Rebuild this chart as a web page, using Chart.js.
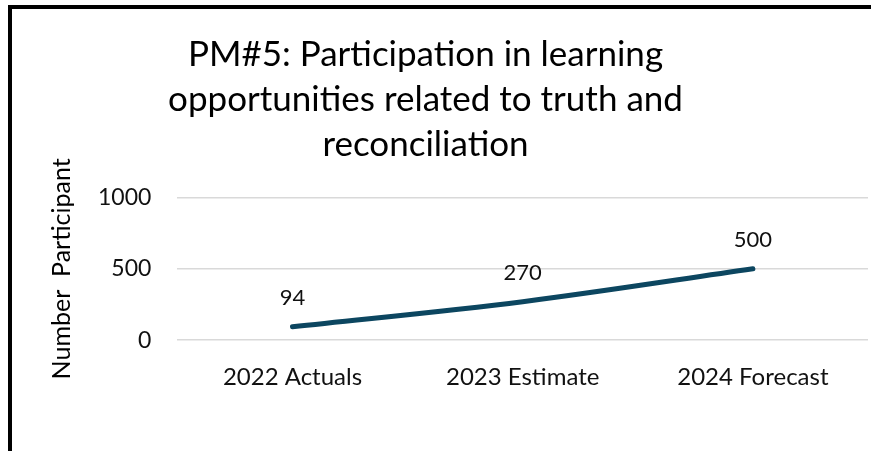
<!DOCTYPE html>
<html>
<head>
<meta charset="utf-8">
<script src="https://cdn.jsdelivr.net/npm/chart.js@4.4.0/dist/chart.umd.min.js"></script>
<style>
  html, body { margin: 0; padding: 0; background: #fff; }
  #wrap { position: absolute; left: 0; top: 0; width: 871px; height: 451px; }
  #frame { position: absolute; left: 8px; top: 5px; width: 863px; height: 446px;
           border-top: 4px solid #000; border-left: 4px solid #000; box-sizing: border-box; pointer-events: none; }
  canvas { position: absolute; left: 0; top: 0; }
</style>
</head>
<body>
<div id="wrap">
  <canvas id="c" width="871" height="451"></canvas>
  <div id="frame"></div>
</div>
<script>
const categories = ["2022 Actuals", "2023 Estimate", "2024 Forecast"];
const participants = [94, 270, 500];
const yTicks = [0, 500, 1000];
const titleLines = ["PM#5: Participation in learning", "opportunities related to truth and", "reconciliation"];
const yTitle = "Number  Participant";

const FONT = "Lato, 'Open Sans', sans-serif";

const valueLabels = {
  id: 'valueLabels',
  afterDatasetsDraw(chart) {
    const ctx = chart.ctx;
    const meta = chart.getDatasetMeta(0);
    ctx.save();
    ctx.font = "22px " + FONT;
    ctx.fillStyle = "#111";
    ctx.textAlign = "center";
    ctx.textBaseline = "middle";
    meta.data.forEach((pt, i) => {
      ctx.fillText(String(chart.data.datasets[0].data[i]), pt.x, pt.y - 29);
    });
    ctx.restore();
  }
};

// shift the title a little left of the canvas centre, as in the reference
const titleShift = {
  id: 'titleShift',
  afterLayout(chart) {
    if (chart.titleBlock) {
      chart.titleBlock.left -= 10;
      chart.titleBlock.right -= 10;
    }
  }
};

new Chart(document.getElementById('c'), {
  type: 'line',
  data: {
    labels: categories,
    datasets: [{
      data: participants,
      borderColor: '#0c4660',
      borderWidth: 5,
      borderCapStyle: 'round',
      pointRadius: 0,
      tension: 0.3,
      cubicInterpolationMode: 'monotone',
      fill: false
    }]
  },
  options: {
    responsive: false,
    animation: false,
    layout: { padding: { left: 3, right: 3, top: 32, bottom: 36 } },
    plugins: {
      legend: { display: false },
      tooltip: { enabled: false },
      title: {
        display: true,
        text: titleLines,
        color: '#000',
        font: { family: FONT, size: 35, weight: 'normal', lineHeight: 1.29 },
        padding: { top: 0, bottom: 30 }
      }
    },
    scales: {
      x: {
        offset: true,
        grid: { display: false, drawTicks: false },
        border: { display: false },
        ticks: { color: '#111', font: { family: FONT, size: 24 }, padding: 23, maxRotation: 0 }
      },
      y: {
        min: 0, max: 1000,
        afterBuildTicks(axis) { axis.ticks = yTicks.map(v => ({ value: v })); },
        grid: { color: '#d9d9d9', lineWidth: 1.5, drawTicks: false },
        border: { display: false },
        ticks: { color: '#111', font: { family: FONT, size: 23 }, padding: 26, callback: v => String(v) },
        title: {
          display: true,
          text: yTitle,
          color: '#000',
          font: { family: FONT, size: 25 },
          padding: { top: 44, bottom: -5 }
        }
      }
    }
  },
  plugins: [valueLabels, titleShift]
});
</script>
</body>
</html>
